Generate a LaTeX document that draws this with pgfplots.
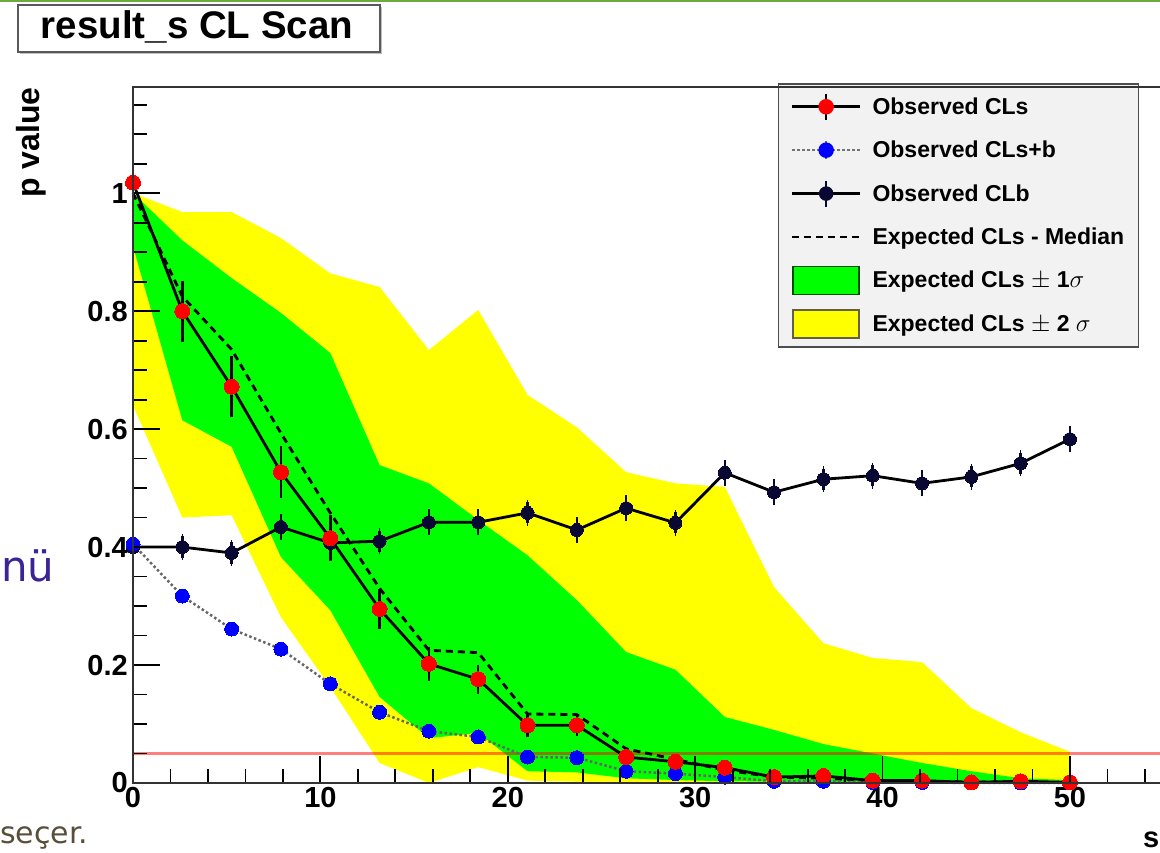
\documentclass[border=0pt]{standalone}
\usepackage{pgfplots}
\pgfplotsset{compat=1.18}
\usepackage{pgfplotstable}
\usepgfplotslibrary{fillbetween}
\usepackage{fontspec}
\setmainfont{Liberation Sans}
\newfontfamily\slidefont{DejaVu Sans}
\definecolor{rgreen}{RGB}{0,255,0}
\definecolor{ryellow}{RGB}{255,255,0}
\definecolor{rnavy}{RGB}{8,8,50}
\definecolor{rblue}{RGB}{0,0,255}
\definecolor{rred}{RGB}{255,0,0}
\definecolor{slidepurple}{RGB}{58,36,150}
\definecolor{slidebrown}{RGB}{88,78,58}
\definecolor{slidegreen}{RGB}{110,170,60}

\pgfplotstableread{
x cls clse clsb clsbe clb clbe med g1u g1l y2u y2l
0 1.018 0.05 0.405 0.006 0.400 0.018 1.000 1.000 0.910 1.000 0.640
2.6316 0.800 0.045 0.317 0.006 0.400 0.018 0.825 0.920 0.615 0.968 0.450
5.2632 0.672 0.045 0.261 0.006 0.390 0.018 0.735 0.856 0.570 0.968 0.454
7.8947 0.527 0.037 0.227 0.006 0.434 0.018 0.593 0.797 0.383 0.924 0.281
10.5263 0.415 0.032 0.168 0.006 0.407 0.018 0.458 0.729 0.293 0.864 0.163
13.1579 0.295 0.027 0.120 0.005 0.410 0.018 0.330 0.539 0.146 0.841 0.034
15.7895 0.202 0.022 0.088 0.005 0.442 0.018 0.225 0.508 0.076 0.734 0.000
18.4211 0.176 0.018 0.078 0.005 0.442 0.018 0.221 0.446 0.085 0.802 0.027
21.0526 0.098 0.014 0.044 0.004 0.458 0.018 0.117 0.386 0.020 0.658 0.004
23.6842 0.098 0.012 0.043 0.004 0.429 0.018 0.116 0.310 0.018 0.603 0.002
26.3158 0.044 0.008 0.020 0.003 0.466 0.018 0.058 0.222 0.008 0.527 0.001
28.9474 0.036 0.007 0.016 0.003 0.441 0.018 0.040 0.192 0.005 0.508 0.000
31.5789 0.026 0.006 0.010 0.002 0.526 0.018 0.022 0.112 0.003 0.502 0.000
34.2105 0.010 0.004 0.003 0.002 0.493 0.018 0.010 0.090 0.002 0.332 0.000
36.8421 0.012 0.004 0.003 0.002 0.515 0.018 0.008 0.066 0.001 0.237 0.000
39.4737 0.004 0.003 0.001 0.001 0.521 0.018 0.004 0.050 0.000 0.212 0.000
42.1053 0.004 0.003 0.001 0.001 0.508 0.018 0.003 0.034 0.000 0.205 0.000
44.7368 0.001 0.002 0.000 0.001 0.519 0.018 0.002 0.020 0.000 0.127 0.000
47.3684 0.003 0.002 0.000 0.001 0.542 0.018 0.001 0.008 0.000 0.086 0.000
50 0.001 0.002 0.000 0.001 0.583 0.018 0.001 0.005 0.000 0.053 0.000
}\scan

\begin{document}
\begin{tikzpicture}[x=1pt,y=1pt]
\draw[slidegreen, line width=3pt] (0,851) -- (1160,851);

\begin{axis}[
  at={(133pt,69pt)}, anchor=south west,
  width=1030.7pt, height=696pt, scale only axis,
  xmin=0, xmax=55, ymin=0, ymax=1.18,
  clip=false, axis on top,
  axis line style={line width=1.8pt, black!80},
  xtick={0,10,20,30,40,50}, xticklabels={0,10,20,30,40,50},
  ytick={0,0.2,0.4,0.6,0.8,1}, yticklabels={0,0.2,0.4,0.6,0.8,1},
  minor xtick={2,4,6,8,12,14,16,18,22,24,26,28,32,34,36,38,42,44,46,48,52,54},
  minor ytick={0.05,0.1,0.15,0.25,0.3,0.35,0.45,0.5,0.55,0.65,0.7,0.75,0.85,0.9,0.95,1.05,1.1,1.15},
  xtick pos=bottom, ytick pos=left, tick align=inside,
  major tick length=27pt, minor tick length=14pt,
  tick style={line width=1.8pt, black},
  /pgf/number format/assume math mode=true,
  ticklabel style={font=\bfseries\fontsize{29}{29}\selectfont, inner sep=0pt},
  xticklabel style={anchor=north, yshift=-4pt},
  yticklabel style={anchor=east, xshift=-5pt},
  legend style={at={(axis description cs:0.6258,1.0057)}, anchor=north west,
    fill=black!5, draw=black!70, line width=1.5pt,
    inner xsep=12pt, inner ysep=8pt, column sep=9pt, row sep=13.4pt,
    font=\bfseries\fontsize{23}{26}\selectfont},
  legend cell align=left,
]
\addlegendimage{legend image code/.code={
  \path[draw=none, fill=none] (0pt,-15pt) rectangle (68pt,15pt);
  \draw[black, line width=2.8pt] (0pt,0pt) -- (68pt,0pt);
  \draw[black, line width=2.5pt] (34pt,-13pt) -- (34pt,13pt);
  \fill[rred] (34pt,0pt) circle (7pt);}}
\addlegendentry{Observed CLs}
\addlegendimage{legend image code/.code={
  \path[draw=none, fill=none] (0pt,-15pt) rectangle (68pt,15pt);
  \draw[black!55, line width=2.5pt, dash pattern=on 2.5pt off 2.5pt] (0pt,0pt) -- (68pt,0pt);
  \draw[black!60, line width=1.5pt] (34pt,-9pt) -- (34pt,9pt);
  \fill[rblue] (34pt,0pt) circle (7pt);}}
\addlegendentry{Observed CLs+b}
\addlegendimage{legend image code/.code={
  \path[draw=none, fill=none] (0pt,-15pt) rectangle (68pt,15pt);
  \draw[black, line width=2.8pt] (0pt,0pt) -- (68pt,0pt);
  \draw[rnavy, line width=2.5pt] (34pt,-13pt) -- (34pt,13pt);
  \fill[rnavy] (34pt,0pt) circle (6.5pt);}}
\addlegendentry{Observed CLb}
\addlegendimage{legend image code/.code={
  \path[draw=none, fill=none] (0pt,-15pt) rectangle (68pt,15pt);
  \draw[black, line width=2.8pt, dash pattern=on 7pt off 5pt] (0pt,0pt) -- (68pt,0pt);}}
\addlegendentry{Expected CLs - Median}
\addlegendimage{legend image code/.code={
  \path[draw=none, fill=none] (0pt,-15pt) rectangle (68pt,15pt);
  \draw[fill=rgreen, draw=black!70!green, line width=1.5pt] (1pt,-14pt) rectangle (67pt,14pt);}}
\addlegendentry{Expected CLs {\mdseries$\pm$} 1{\mdseries$\sigma$}}
\addlegendimage{legend image code/.code={
  \path[draw=none, fill=none] (0pt,-15pt) rectangle (68pt,15pt);
  \draw[fill=ryellow, draw=black!70!yellow, line width=1.5pt] (1pt,-14pt) rectangle (67pt,14pt);}}
\addlegendentry{Expected CLs {\mdseries$\pm$} 2 {\mdseries$\sigma$}}

% bands
\addplot[name path=y2u, draw=none, forget plot] table[x=x, y=y2u]{\scan};
\addplot[name path=y2l, draw=none, forget plot] table[x=x, y=y2l]{\scan};
\addplot[ryellow, forget plot] fill between[of=y2u and y2l];
\addplot[name path=g1u, draw=none, forget plot] table[x=x, y=g1u]{\scan};
\addplot[name path=g1l, draw=none, forget plot] table[x=x, y=g1l]{\scan};
\addplot[rgreen, forget plot] fill between[of=g1u and g1l];

% 0.05 line
\addplot[rred, opacity=0.5, line width=3.5pt, forget plot] coordinates {(0,0.05) (55,0.05)};

% expected median
\addplot[black, line width=2.8pt, dash pattern=on 7pt off 5pt, forget plot] table[x=x, y=med]{\scan};

% observed CLb
\addplot[forget plot, black, line width=2.8pt, mark=*, mark size=6.5pt,
  mark options={fill=rnavy, draw=rnavy, line width=0pt},
  error bars/.cd, y dir=both, y explicit,
  error bar style={line width=2.5pt, rnavy},
  error mark options={rnavy, line width=1.5pt, mark size=2.5pt}]
  table[x=x, y=clb, y error=clbe]{\scan};

% observed CLs+b
\addplot[forget plot, black!60, line width=2.5pt, dash pattern=on 2.5pt off 2.5pt, mark=*, mark size=7pt,
  mark options={solid, fill=rblue, draw=rblue, line width=0pt},
  error bars/.cd, y dir=both, y explicit,
  error bar style={line width=1.5pt, solid, black!60},
  error mark options={line width=1pt, mark size=2pt}]
  table[x=x, y=clsb, y error=clsbe]{\scan};

% observed CLs
\addplot[forget plot, black, line width=2.8pt, mark=*, mark size=7.5pt,
  mark options={fill=rred, draw=rred, line width=0pt},
  error bars/.cd, y dir=both, y explicit,
  error bar style={line width=2.5pt, black},
  error mark options={black, line width=2.5pt, mark size=4pt}]
  table[x=x, y=cls, y error=clse]{\scan};
\end{axis}

% title box
\fill[black!25] (20,798) rectangle (382,845);
\draw[black!65, line width=1.5pt, fill=white] (18,800) rectangle (380,847);
\node[anchor=base, inner sep=0pt, font=\bfseries\fontsize{38.5}{38.5}\selectfont] at (197,813) {result\_s CL Scan};

% axis titles
\node[rotate=90, anchor=east, inner sep=0pt, font=\bfseries\fontsize{32}{32}\selectfont] at (31,765) {p value};
\node[anchor=base west, inner sep=0pt, font=\bfseries\fontsize{29}{29}\selectfont] at (1143,5) {s};

% slide fragments
\node[anchor=base west, inner sep=0pt, text=slidepurple, font=\slidefont\fontsize{42}{42}\selectfont] at (1,270) {nü};
\node[anchor=base west, inner sep=0pt, text=slidebrown, font=\slidefont\fontsize{30}{30}\selectfont] at (0,9) {seçer.};

\pgfresetboundingbox
\path[use as bounding box] (0,0) rectangle (1160,852);
\end{tikzpicture}
\end{document}
